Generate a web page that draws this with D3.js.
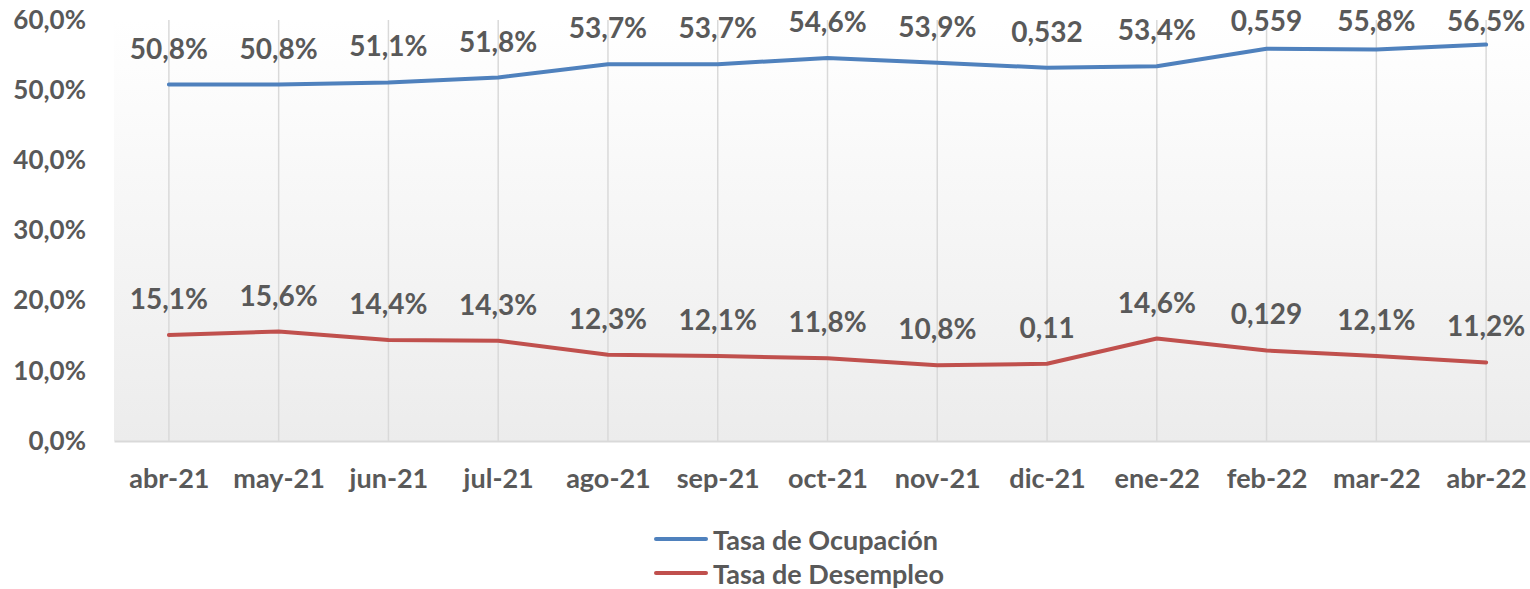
<!DOCTYPE html>
<html>
<head>
<meta charset="utf-8">
<script src="https://cdn.jsdelivr.net/npm/d3@7"></script>
<style>
  html, body { margin: 0; padding: 0; background: #fff; }
  svg { display: block; }
  text { font-family: Lato, "Open Sans", sans-serif; font-weight: bold; fill: #595959; }
</style>
</head>
<body>
<svg id="chart" width="1530" height="589"></svg>
<script>
const categories = ["abr-21","may-21","jun-21","jul-21","ago-21","sep-21","oct-21","nov-21","dic-21","ene-22","feb-22","mar-22","abr-22"];
const ocupacion = [50.8, 50.8, 51.1, 51.8, 53.7, 53.7, 54.6, 53.9, 53.2, 53.4, 55.9, 55.8, 56.5];
const ocupacionLabels = ["50,8%","50,8%","51,1%","51,8%","53,7%","53,7%","54,6%","53,9%","0,532","53,4%","0,559","55,8%","56,5%"];
const desempleo = [15.1, 15.6, 14.4, 14.3, 12.3, 12.1, 11.8, 10.8, 11.0, 14.6, 12.9, 12.1, 11.2];
const desempleoLabels = ["15,1%","15,6%","14,4%","14,3%","12,3%","12,1%","11,8%","10,8%","0,11","14,6%","0,129","12,1%","11,2%"];
const yTicks = [0, 10, 20, 30, 40, 50, 60];
const yTickLabels = ["0,0%","10,0%","20,0%","30,0%","40,0%","50,0%","60,0%"];
const seriesNames = ["Tasa de Ocupación", "Tasa de Desempleo"];
const seriesColors = ["#4f81bd", "#c0504d"];

const svg = d3.select("#chart");
const plot = { left: 114, right: 1541, top: 20, bottom: 441 };

const x = d3.scalePoint().domain(categories).range([plot.left, plot.right]).padding(0.5);
const y = d3.scaleLinear().domain([0, 60]).range([plot.bottom, plot.top]);

// gradient background
const defs = svg.append("defs");
const grad = defs.append("linearGradient").attr("id", "bg").attr("x1", 0).attr("y1", 0).attr("x2", 0).attr("y2", 1);
grad.append("stop").attr("offset", "0%").attr("stop-color", "#ffffff");
grad.append("stop").attr("offset", "100%").attr("stop-color", "#ececec");
svg.append("rect").attr("x", plot.left).attr("y", plot.top)
  .attr("width", plot.right - plot.left).attr("height", plot.bottom - plot.top)
  .attr("fill", "url(#bg)");

// vertical gridlines
svg.append("g").selectAll("line").data(categories).join("line")
  .attr("x1", d => x(d)).attr("x2", d => x(d))
  .attr("y1", y(60)).attr("y2", plot.bottom)
  .attr("stroke", "#d9d9d9").attr("stroke-width", 1.5);

// x axis
const xAxis = svg.append("g").attr("transform", `translate(0,${plot.bottom})`)
  .call(d3.axisBottom(x).tickSize(0).tickPadding(28));
xAxis.select(".domain").attr("stroke", "#d9d9d9").attr("stroke-width", 2);
xAxis.selectAll("text").style("font-size", "27px").style("font-family", "Lato, sans-serif").style("font-weight", "bold").attr("fill", "#595959");

// y axis
const yAxis = svg.append("g").attr("transform", `translate(${plot.left},0)`)
  .call(d3.axisLeft(y).tickValues(yTicks).tickFormat((d, i) => yTickLabels[i]).tickSize(0).tickPadding(28));
yAxis.select(".domain").remove();
yAxis.selectAll("text").style("font-size", "26px").style("font-family", "Lato, sans-serif").style("font-weight", "bold").attr("fill", "#595959");

// lines
const series = [
  { name: seriesNames[0], values: ocupacion, labels: ocupacionLabels, color: seriesColors[0] },
  { name: seriesNames[1], values: desempleo, labels: desempleoLabels, color: seriesColors[1] }
];
const line = d3.line().x((d, i) => x(categories[i])).y(d => y(d));
series.forEach(s => {
  svg.append("path").datum(s.values).attr("d", line)
    .attr("fill", "none").attr("stroke", s.color).attr("stroke-width", 4)
    .attr("stroke-linejoin", "round").attr("stroke-linecap", "round");
  svg.append("g").selectAll("text").data(s.values).join("text")
    .attr("x", (d, i) => x(categories[i]))
    .attr("y", d => Math.max(y(d) - 37, 20))
    .attr("text-anchor", "middle").attr("dominant-baseline", "central")
    .style("font-size", "28px")
    .text((d, i) => s.labels[i]);
});

// legend
const legend = svg.append("g");
series.forEach((s, i) => {
  const ly = 539 + i * 34;
  legend.append("line").attr("x1", 656).attr("x2", 706).attr("y1", ly).attr("y2", ly)
    .attr("stroke", s.color).attr("stroke-width", 4).attr("stroke-linecap", "round");
  legend.append("text").attr("x", 713).attr("y", ly).attr("dominant-baseline", "central")
    .style("font-size", "27px").text(s.name);
});
</script>
</body>
</html>
